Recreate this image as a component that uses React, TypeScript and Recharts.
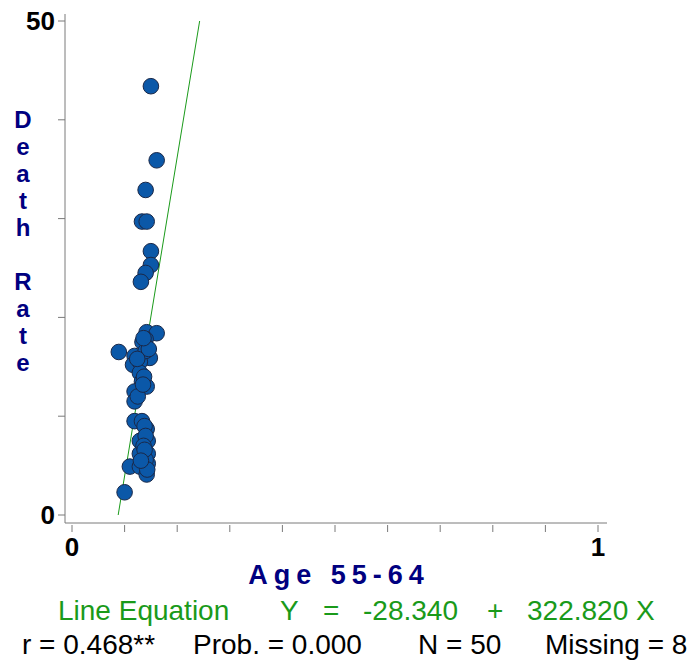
import React from "react";
import {
  ScatterChart,
  Scatter,
  XAxis,
  YAxis,
  ReferenceLine,
  Label,
} from "recharts";

// proportion of population aged 55-64 per state
const agePct = [
  0.15, 0.161, 0.14, 0.133, 0.142, 0.15, 0.15, 0.14, 0.131, 0.142,
  0.161, 0.14, 0.14, 0.134, 0.089, 0.119, 0.148, 0.116, 0.129, 0.129,
  0.133, 0.142, 0.119, 0.119, 0.119, 0.133, 0.142, 0.129, 0.144, 0.129,
  0.144, 0.11, 0.129, 0.142, 0.144, 0.1, 0.14, 0.137, 0.125, 0.138,
  0.14, 0.136, 0.14, 0.146, 0.124, 0.143, 0.135, 0.138, 0.136, 0.131,
];

// death rate per state
const deathRate = [
  43.4, 35.9, 32.9, 29.7, 29.7, 26.7, 25.3, 24.5, 23.6, 18.5,
  18.4, 17.8, 17.1, 17.5, 16.5, 16.1, 15.9, 15.2, 15.5, 14.4,
  13.5, 13.0, 12.5, 11.5, 9.5, 9.5, 8.7, 7.5, 7.5, 6.2,
  6.2, 4.9, 4.9, 4.1, 5.2, 2.3, 16.6, 14.0, 12.0, 9.0,
  8.0, 7.0, 5.6, 16.8, 15.8, 4.6, 13.2, 6.6, 17.9, 5.5,
];

const xTicks = [0, 0.1, 0.2, 0.3, 0.4, 0.5, 0.6, 0.7, 0.8, 0.9, 1];
const yTicks = [0, 10, 20, 30, 40, 50];
const xLabeled = [0, 1];
const yLabeled = [0, 50];

// fitted line Y = a + b X
const intercept = -28.34;
const slope = 322.82;

const equationParts = ["Line Equation", "Y", "=", "-28.340", "+", "322.820 X"];
const statsParts = ["r = 0.468**", "Prob. = 0.000", "N = 50", "Missing = 8"];

const points = agePct.map((x, i) => ({ x, y: deathRate[i] }));
const fitLine = [
  { x: (0 - intercept) / slope, y: 0 },
  { x: (50 - intercept) / slope, y: 50 },
];

const FONT = "Arial, 'Liberation Sans', sans-serif";
const NAVY = "#000080";
const GREEN = "#1a9a1a";
const AXIS = "#7a7a7a";

const Dot = (props: any) => (
  <circle
    cx={props.cx}
    cy={props.cy}
    r={7.8}
    fill="#0b58a8"
    stroke="#1a2848"
    strokeWidth={1}
  />
);

// x ticks hang a little below the frame
const XTick = (props: any) => {
  const { x, y, payload } = props;
  const axisY = y - 12;
  const show = xLabeled.includes(payload.value);
  return (
    <g>
      <line x1={x} x2={x} y1={axisY + 2} y2={axisY + 9} stroke={AXIS} />
      {show && (
        <text
          x={x}
          y={y + 21}
          textAnchor="middle"
          fontSize={26}
          fontWeight="bold"
          fontFamily={FONT}
          fill="#000"
        >
          {payload.value}
        </text>
      )}
    </g>
  );
};

const XTitle = (props: any) => {
  const vb = props.viewBox;
  return (
    <text
      x={vb.x + vb.width / 2 + 3}
      y={vb.y + 61}
      textAnchor="middle"
      fontSize={27}
      fontWeight="bold"
      fontFamily={FONT}
      fill={NAVY}
      letterSpacing={6}
    >
      Age  55-64
    </text>
  );
};

// stacked upright letters, one text element
const YTitle = () => (
  <text
    x={23}
    y={106}
    fontSize={24}
    fontWeight="bold"
    fontFamily={FONT}
    fill={NAVY}
    style={{ writingMode: "vertical-rl", textOrientation: "upright" } as any}
  >
    Death Rate
  </text>
);

const eqLefts = [58, 280, 323, 363, 487, 527];
const statLefts = [22, 193, 418, 545];

export default function App() {
  return (
    <div
      style={{
        position: "absolute",
        left: 0,
        top: 0,
        width: 695,
        height: 664,
        background: "#fff",
        fontFamily: FONT,
      }}
    >
      <ScatterChart
        width={695}
        height={664}
        margin={{ top: 14, right: 88, bottom: 101, left: 0 }}
      >
        <XAxis
          xAxisId="top"
          orientation="top"
          type="number"
          domain={[0, 1]}
          height={0}
          tick={false}
          tickLine={false}
          axisLine={{ stroke: AXIS }}
        />
        <YAxis
          yAxisId="right"
          orientation="right"
          type="number"
          domain={[0, 50]}
          width={0}
          tick={false}
          tickLine={false}
          axisLine={{ stroke: AXIS }}
        />
        <XAxis
          type="number"
          dataKey="x"
          domain={[0, 1]}
          ticks={xTicks}
          interval={0}
          padding={{ left: 7, right: 9 }}
          height={40}
          tickSize={9}
          tickMargin={3}
          tickLine={false}
          tick={<XTick />}
          axisLine={{ stroke: AXIS }}
        >
          <Label content={<XTitle />} />
        </XAxis>
        <YAxis
          type="number"
          dataKey="y"
          domain={[0, 50]}
          ticks={yTicks}
          interval={0}
          padding={{ top: 7, bottom: 8 }}
          width={65}
          tickSize={7}
          tickMargin={3}
          tickFormatter={(v: number) => (yLabeled.includes(v) ? String(v) : "")}
          tick={{ fontSize: 26, fontWeight: "bold", fill: "#000", fontFamily: FONT }}
          tickLine={{ stroke: AXIS }}
          axisLine={{ stroke: AXIS }}
        >
          <Label content={<YTitle />} />
        </YAxis>
        <Scatter
          data={points}
          shape={<Dot />}
          isAnimationActive={false}
        />
        <ReferenceLine
          segment={fitLine}
          stroke={GREEN}
          strokeWidth={1}
          ifOverflow="visible"
        />
      </ScatterChart>

      {equationParts.map((t, i) => (
        <span
          key={"e" + i}
          style={{
            position: "absolute",
            left: eqLefts[i],
            top: 595,
            fontSize: 28,
            lineHeight: "32px",
            color: GREEN,
            whiteSpace: "pre",
          }}
        >
          {t}
        </span>
      ))}
      {statsParts.map((t, i) => (
        <span
          key={"s" + i}
          style={{
            position: "absolute",
            left: statLefts[i],
            top: 629,
            fontSize: 28,
            lineHeight: "32px",
            color: "#000",
            whiteSpace: "pre",
          }}
        >
          {t}
        </span>
      ))}
    </div>
  );
}
